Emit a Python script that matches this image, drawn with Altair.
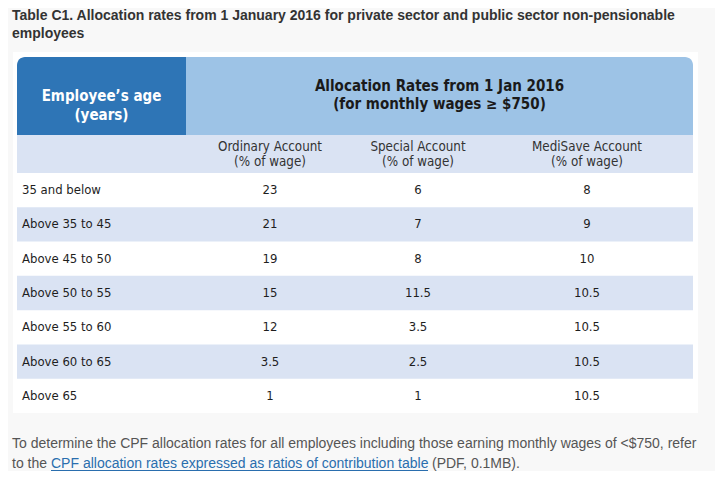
import altair as alt
import pandas as pd

# ---- data ----
ages = ["35 and below", "Above 35 to 45", "Above 45 to 50", "Above 50 to 55",
        "Above 55 to 60", "Above 60 to 65", "Above 65"]
ordinary = [23, 21, 19, 15, 12, 3.5, 1]
special = [6, 7, 8, 11.5, 3.5, 2.5, 1]
medisave = [8, 9, 10, 10.5, 10.5, 10.5, 10.5]
accounts = ["Ordinary Account", "Special Account", "MediSave Account"]
sub_label = "(% of wage)"
title_lines = ["Table C1. Allocation rates from 1 January 2016 for private sector and public sector non-pensionable",
               "employees"]
head_left = ["Employee\u2019s age", "(years)"]
head_right = ["Allocation Rates from 1 Jan 2016", "(for monthly wages \u2265 $750)"]
foot1 = "To determine the CPF allocation rates for all employees including those earning monthly wages of <$750, refer"
foot2a = "to the"
foot_link = "CPF allocation rates expressed as ratios of contribution table"
foot2b = "(PDF, 0.1MB)."

# ---- layout / style ----
W, H = 707, 463
O = 8  # page margin offset
DARK = "#2e75b6"
LIGHT = "#9dc3e6"
STRIPE = "#dae3f3"
BG = "#f8f8f8"
TXT = "#1e1e1e"
TFONT = "DejaVu Sans Condensed"
col_x = {"Ordinary Account": 270, "Special Account": 418, "MediSave Account": 587}

rows = pd.DataFrame({"age": ages})
long = pd.DataFrame({
    "age": ages * 3,
    "account": sum([[a] * len(ages) for a in accounts], []),
    "value": ordinary + special + medisave,
})
one = pd.DataFrame({"k": [0]})

yscale = alt.Scale(type="band", domain=ages, range=[173 - O, 413 - O],
                   paddingInner=0, paddingOuter=0)
Y = alt.Y("age:N", scale=yscale, axis=None)

base1 = alt.Chart(one)

panel = base1.mark_rect(color="white").encode(
    x=alt.value(13 - O), x2=alt.value(698 - O), y=alt.value(52 - O), y2=alt.value(413 - O))
hdark = base1.mark_rect(color=DARK, cornerRadiusTopLeft=8).encode(
    x=alt.value(17 - O), x2=alt.value(186 - O), y=alt.value(57 - O), y2=alt.value(135 - O))
hlight = base1.mark_rect(color=LIGHT, cornerRadiusTopRight=8).encode(
    x=alt.value(186 - O), x2=alt.value(693 - O), y=alt.value(57 - O), y2=alt.value(135 - O))
hsub = base1.mark_rect(color=STRIPE).encode(
    x=alt.value(17 - O), x2=alt.value(693 - O), y=alt.value(135 - O), y2=alt.value(173 - O))

stripes = alt.Chart(rows).transform_window(rn="row_number()").transform_filter(
    "datum.rn % 2 == 0").mark_rect(color=STRIPE).encode(
    y=Y, x=alt.value(17 - O), x2=alt.value(693 - O))

def txt(s, x, y, size, color=TXT, weight="normal", align="center", font=TFONT):
    return base1.mark_text(text=s, fontSize=size, fontWeight=weight, color=color,
                           align=align, baseline="alphabetic", font=font).encode(
        x=alt.value(x - O), y=alt.value(y - O))

heads = [
    txt(head_left[0], 101.5, 101, 15, "white", "bold"),
    txt(head_left[1], 101.5, 120, 15, "white", "bold"),
    txt(head_right[0], 439.5, 91, 15, "#1a1a1a", "bold"),
    txt(head_right[1], 439.5, 109, 15, "#1a1a1a", "bold"),
]
for a in accounts:
    heads.append(txt(a, col_x[a], 151, 13.3, "#333333"))
    heads.append(txt(sub_label, col_x[a], 166, 13.3, "#333333"))

agetext = alt.Chart(rows).mark_text(align="left", baseline="middle", fontSize=13,
                                    font=TFONT, color=TXT).encode(
    y=Y, x=alt.value(22 - O), text="age:N")

vals = []
for a in accounts:
    vals.append(alt.Chart(long).transform_filter(alt.datum.account == a).mark_text(
        align="center", baseline="middle", fontSize=13, font=TFONT, color=TXT).encode(
        y=Y, x=alt.value(col_x[a] - O), text=alt.Text("value:Q", format="~g")))

TF = "Liberation Sans"
title = [txt(title_lines[0], 12, 20, 14, "#333333", "bold", "left", TF),
         txt(title_lines[1], 12, 38, 14, "#333333", "bold", "left", TF)]
foot = [txt(foot1, 12, 448, 14, "#555555", "normal", "left", TF),
        txt(foot2a, 12, 468, 14, "#555555", "normal", "left", TF),
        txt(foot_link, 51, 468, 14, "#2a6eae", "normal", "left", TF),
        txt(foot2b, 432, 468, 14, "#555555", "normal", "left", TF)]
underline = base1.mark_rule(color="#2a6eae", strokeWidth=1).encode(
    x=alt.value(51 - O), x2=alt.value(428 - O), y=alt.value(470.5 - O))

chart = alt.layer(panel, hdark, hlight, hsub, stripes, *heads, agetext, *vals,
                  *title, *foot, underline).properties(
    width=W, height=H, padding=0, autosize="none", background=BG
).configure_view(stroke=None)

chart.save("out.html", embed_options={"renderer": "svg", "actions": False})
